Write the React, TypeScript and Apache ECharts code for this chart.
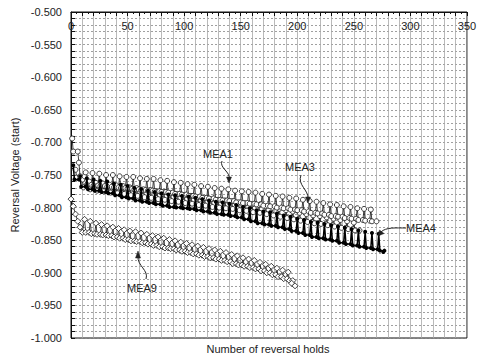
import React, { useEffect, useRef } from "react";
import * as echarts from "echarts";

// ---- data ----
const mea1Holds = [1,7,13,19,25,31,37,43,49,55,61,67,73,79,85,91,97,103,109,115,121,127,133,139,145,151,157,163,169,175,181,187,193,199,205,211,217,223,229,235,241,247,253,259,265];
const mea1Peak = [-0.694,-0.731,-0.746,-0.747,-0.748,-0.750,-0.750,-0.752,-0.753,-0.753,-0.755,-0.756,-0.756,-0.758,-0.759,-0.761,-0.762,-0.764,-0.765,-0.767,-0.768,-0.770,-0.771,-0.772,-0.774,-0.775,-0.776,-0.777,-0.779,-0.780,-0.782,-0.783,-0.785,-0.786,-0.788,-0.790,-0.791,-0.793,-0.795,-0.796,-0.798,-0.799,-0.801,-0.802,-0.803];
const mea1Trough = [-0.714,-0.752,-0.765,-0.766,-0.767,-0.768,-0.769,-0.770,-0.771,-0.772,-0.773,-0.774,-0.775,-0.776,-0.777,-0.779,-0.780,-0.782,-0.783,-0.785,-0.786,-0.788,-0.789,-0.790,-0.792,-0.793,-0.794,-0.795,-0.797,-0.798,-0.800,-0.801,-0.803,-0.804,-0.806,-0.808,-0.809,-0.811,-0.813,-0.814,-0.816,-0.817,-0.819,-0.820,-0.821];

const mea3Holds = [4,10,16,22,28,34,40,46,52,58,64,70,76,82,88,94,100,106,112,118,124,130,136,142,148,154,160,166,172,178,184,190,196,202,208,214,220,226,232,238,244,250];
const mea3Peak = [-0.742,-0.757,-0.760,-0.762,-0.763,-0.765,-0.766,-0.767,-0.769,-0.770,-0.772,-0.773,-0.775,-0.776,-0.778,-0.779,-0.781,-0.782,-0.784,-0.785,-0.787,-0.788,-0.789,-0.790,-0.792,-0.793,-0.795,-0.796,-0.798,-0.800,-0.802,-0.804,-0.806,-0.808,-0.810,-0.812,-0.813,-0.815,-0.817,-0.819,-0.821,-0.823];
const mea3Trough = [-0.754,-0.769,-0.772,-0.774,-0.775,-0.777,-0.778,-0.779,-0.781,-0.782,-0.784,-0.785,-0.787,-0.788,-0.790,-0.791,-0.793,-0.794,-0.796,-0.797,-0.799,-0.800,-0.801,-0.802,-0.804,-0.805,-0.807,-0.808,-0.810,-0.812,-0.814,-0.816,-0.818,-0.820,-0.822,-0.824,-0.825,-0.827,-0.829,-0.831,-0.833,-0.835];

const mea4Holds = [2,8,14,20,26,32,38,44,50,56,62,68,74,80,86,92,98,104,110,116,122,128,134,140,146,152,158,164,170,176,182,188,194,200,206,212,218,224,230,236,242,248,254,260,266,272];
const mea4Peak = [-0.735,-0.752,-0.755,-0.757,-0.759,-0.760,-0.763,-0.765,-0.767,-0.770,-0.772,-0.774,-0.776,-0.778,-0.780,-0.781,-0.782,-0.783,-0.785,-0.787,-0.789,-0.791,-0.792,-0.794,-0.796,-0.799,-0.801,-0.804,-0.806,-0.807,-0.809,-0.812,-0.814,-0.817,-0.819,-0.822,-0.823,-0.825,-0.827,-0.829,-0.831,-0.833,-0.835,-0.837,-0.839,-0.840];
const mea4Trough = [-0.757,-0.768,-0.772,-0.774,-0.776,-0.778,-0.781,-0.784,-0.786,-0.789,-0.791,-0.793,-0.795,-0.797,-0.799,-0.800,-0.801,-0.802,-0.804,-0.806,-0.808,-0.810,-0.811,-0.813,-0.815,-0.818,-0.821,-0.824,-0.826,-0.828,-0.830,-0.833,-0.836,-0.839,-0.842,-0.845,-0.847,-0.849,-0.851,-0.854,-0.856,-0.858,-0.860,-0.862,-0.864,-0.866];
const mea4EndHold = [276];
const mea4EndValue = [-0.868];

const mea9StartHolds = [0,2,4,6,8,10];
const mea9StartValues = [-0.787,-0.798,-0.810,-0.821,-0.830,-0.838];
const mea9Holds = [12,17,22,27,32,37,42,47,52,57,62,67,72,77,82,87,92,97,102,107,112,117,122,127,132,137,142,147,152,157,162,167,172,177,182,187,192];
const mea9Peak = [-0.818,-0.821,-0.824,-0.826,-0.828,-0.830,-0.832,-0.834,-0.836,-0.837,-0.839,-0.841,-0.843,-0.845,-0.847,-0.849,-0.851,-0.853,-0.855,-0.857,-0.859,-0.861,-0.863,-0.865,-0.867,-0.869,-0.872,-0.874,-0.877,-0.879,-0.881,-0.884,-0.887,-0.890,-0.893,-0.896,-0.899];
const mea9Trough = [-0.838,-0.840,-0.841,-0.842,-0.843,-0.845,-0.847,-0.849,-0.851,-0.852,-0.854,-0.856,-0.858,-0.860,-0.862,-0.863,-0.865,-0.867,-0.869,-0.871,-0.873,-0.875,-0.877,-0.879,-0.881,-0.883,-0.886,-0.888,-0.890,-0.892,-0.894,-0.897,-0.900,-0.903,-0.906,-0.909,-0.912];
const mea9TailHolds = [195,198];
const mea9TailValues = [-0.916,-0.920];

const seriesNames = ["MEA1", "MEA3", "MEA4", "MEA9"];
const xTickLabels = [0, 50, 100, 150, 200, 250, 300, 350];
const yTickLabels = [-0.5, -0.55, -0.6, -0.65, -0.7, -0.75, -0.8, -0.85, -0.9, -0.95, -1.0];

const FONT = "'Liberation Sans', Arial, sans-serif";

function cycleData(holds: number[], peaks: number[], troughs: number[], width: number) {
  const out: number[][] = [];
  holds.forEach((h, i) => {
    out.push([h, peaks[i]]);
    out.push([h + 1, troughs[i]]);
    out.push([h + width - 1, troughs[i]]);
  });
  return out;
}

export default function App() {
  const ref = useRef<HTMLDivElement>(null);
  useEffect(() => {
    if (!ref.current) return;
    const chart = echarts.init(ref.current, undefined, { renderer: "svg" });

    const hollow = (name: string, data: number[][], symbol: string, size: number) => ({
      name,
      type: "line",
      data,
      symbol,
      symbolSize: size,
      showAllSymbol: true,
      itemStyle: { color: "#fff", borderColor: "#111", borderWidth: 0.8 },
      lineStyle: { color: "#111", width: 0.8 },
      z: 3,
    });

    const mea4Data = cycleData(mea4Holds, mea4Peak, mea4Trough, 6).concat(
      mea4EndHold.map((h, i) => [h, mea4EndValue[i]])
    );
    const mea9Data = mea9StartHolds
      .map((h, i) => [h, mea9StartValues[i]])
      .concat(cycleData(mea9Holds, mea9Peak, mea9Trough, 5))
      .concat(mea9TailHolds.map((h, i) => [h, mea9TailValues[i]]));

    const txt = (s: string, x: number, y: number) => ({
      type: "text",
      x,
      y,
      style: { text: s, fontSize: 11, fontFamily: FONT, fill: "#222", textAlign: "center", textVerticalAlign: "middle" },
      z: 100,
    });
    const curve = (x1: number, y1: number, cx1: number, cy1: number, cx2: number, cy2: number, x2: number, y2: number) => ({
      type: "bezierCurve",
      shape: { x1, y1, cpx1: cx1, cpy1: cy1, cpx2: cx2, cpy2: cy2, x2, y2 },
      style: { stroke: "#222", lineWidth: 1, fill: "none" },
      z: 100,
    });
    const head = (pts: number[][]) => ({
      type: "polygon",
      shape: { points: pts },
      style: { fill: "#222", stroke: "#222", lineWidth: 0.5 },
      z: 100,
    });

    chart.setOption({
      animation: false,
      backgroundColor: "#fff",
      grid: { left: 71, right: 15, top: 12, bottom: 20, show: true, borderColor: "#111", borderWidth: 1, backgroundColor: "transparent" },
      xAxis: {
        type: "value",
        position: "top",
        min: 0,
        max: 350,
        interval: 10,
        axisLine: { show: true, lineStyle: { color: "#111", width: 1 } },
        axisTick: { show: true, inside: true, length: 4, lineStyle: { color: "#111" } },
        minorTick: { show: true, splitNumber: 2, length: 2, lineStyle: { color: "#111" } },
        axisLabel: {
          inside: true,
          margin: 8,
          fontSize: 11,
          fontFamily: FONT,
          color: "#222",
          showMaxLabel: true,
          formatter: (v: number) => (xTickLabels.indexOf(Math.round(v)) >= 0 ? String(Math.round(v)) : ""),
        },
        splitLine: { show: true, lineStyle: { color: "#a8a8a8", width: 0.8 } },
      },
      yAxis: {
        type: "value",
        min: -1,
        max: -0.5,
        interval: 0.01,
        axisLine: { show: true, lineStyle: { color: "#111", width: 1 } },
        axisTick: { show: true, inside: true, length: 4, lineStyle: { color: "#111" } },
        axisLabel: {
          margin: 9,
          fontSize: 11,
          fontFamily: FONT,
          color: "#222",
          showMinLabel: true,
          showMaxLabel: true,
          formatter: (v: number) => {
            const m = Math.round(v * 1000);
            return yTickLabels.some((t) => Math.round(t * 1000) === m) ? (m / 1000).toFixed(3) : "";
          },
        },
        splitLine: { show: true, lineStyle: { color: "#777", width: 0.7, type: [2, 2] } },
      },
      series: [
        hollow(seriesNames[3], mea9Data, "diamond", 6),
        hollow(seriesNames[1], cycleData(mea3Holds, mea3Peak, mea3Trough, 6), "circle", 5),
        hollow(seriesNames[0], cycleData(mea1Holds, mea1Peak, mea1Trough, 6), "circle", 5),
        {
          name: seriesNames[2],
          type: "line",
          data: mea4Data,
          symbol: "circle",
          symbolSize: 4,
          showAllSymbol: true,
          itemStyle: { color: "#000" },
          lineStyle: { color: "#000", width: 1.5 },
          z: 4,
        },
      ],
      graphic: [
        {
          type: "text",
          x: 15,
          y: 175,
          rotation: Math.PI / 2,
          style: { text: "Reversal Voltage (start)", fontSize: 11, fontFamily: FONT, fill: "#222", textAlign: "center", textVerticalAlign: "middle" },
        },
        txt("Number of reversal holds", 268, 349),
        txt(seriesNames[0], 218, 154),
        curve(222, 161, 219, 168, 231, 172, 229, 179),
        head([[226.5, 177], [231.5, 177], [229, 183]]),
        txt(seriesNames[1], 300, 167),
        curve(301, 175, 297, 185, 309, 190, 308, 199),
        head([[305.5, 197], [310.5, 197], [308, 203]]),
        txt(seriesNames[2], 421, 228),
        curve(406, 228, 396, 228, 386, 227, 381, 232),
        head([[378, 236], [379.5, 230], [384, 233.5]]),
        txt(seriesNames[3], 142, 288),
        curve(146, 279, 149, 270, 137, 266, 138, 256),
        head([[135.5, 258], [140.5, 258], [138, 251]]),
      ],
    });
    return () => chart.dispose();
  }, []);
  return <div ref={ref} style={{ position: "fixed", left: 0, top: 0, width: 482, height: 358 }} />;
}
